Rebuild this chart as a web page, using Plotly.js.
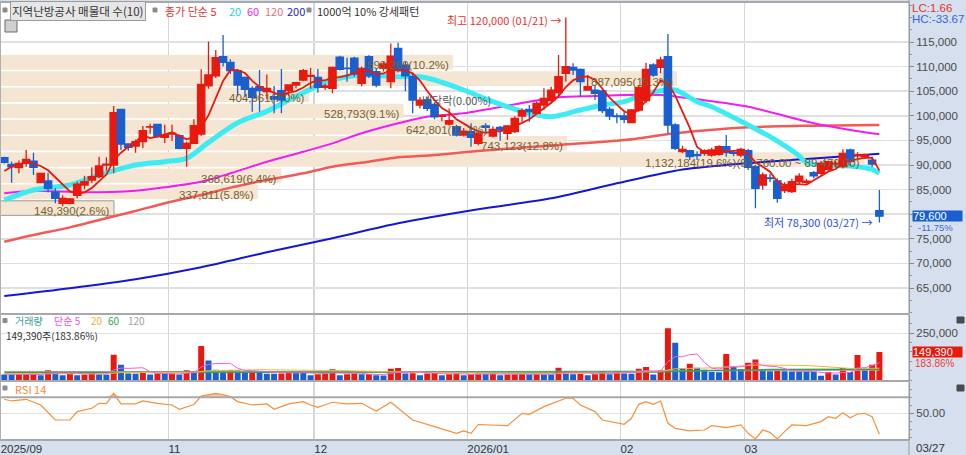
<!DOCTYPE html>
<html><head><meta charset="utf-8">
<script src="https://cdn.plot.ly/plotly-3.0.1.min.js"></script>
<style>html,body{margin:0;padding:0;background:#fff;}#chart{width:966px;height:455px;}</style>
</head><body><div id="chart"></div>
<script>
// ---------------- DATA ----------------
const open = [91480,90140,89450,90350,90800,86400,86750,84460,82220,82220,
83840,85930,86950,87620,90000,90000,101310,94270,93860,94740,
97730,98270,95630,96300,95970,93400,94400,96300,106100,108100,
112000,110870,109170,107830,105590,105920,104900,103880,105100,105100,
106260,107280,108000,107830,105800,105590,111900,109700,111700,106600,
112000,108960,109650,106930,113700,110320,107950,102200,103200,102300,
99900,98330,97800,96100,96770,94400,97930,95900,97650,96440,
96780,99960,101315,100500,102200,103080,104700,108630,109850,109440,
105240,105240,105040,101320,99960,99960,98600,101180,103080,110330,
109850,112020,98130,92710,92900,92100,92370,92030,92170,93720,
92500,92030,92900,89650,85940,87400,86750,84780,84580,86600,
86500,88440,88320,89120,90200,89660,93050,91900,91700,91000,
80700];
const high = [91700,90690,90900,93050,92500,88400,88450,85260,83840,83300,
86600,87800,89530,91690,91570,102000,101400,94400,95200,97930,
98400,98400,98200,98200,96200,94740,99300,109450,115100,113400,
116420,111500,109500,108000,106000,109300,108400,106050,109500,106300,
106900,109500,109700,109500,106500,110000,112200,111800,112000,110000,
112300,109600,111000,114700,114860,111000,108500,103800,103800,102700,
100300,101500,98200,97500,98470,96800,98470,97900,97930,98130,
99900,101500,102200,102900,105580,105920,112360,120000,110660,109600,
108290,106260,105300,101800,100500,100840,101400,106260,110800,110660,
112000,116630,98470,93900,93100,92800,93200,93500,94000,96100,
93000,93500,93300,90000,88500,88200,87300,86500,87200,88300,
87200,88800,90800,90900,90900,93190,93300,92600,92300,91700,
84920];
const low = [90300,86400,88300,89650,87970,86300,84460,82220,81620,82000,
83230,85060,86300,87300,88840,88300,93050,92900,92500,93400,
96340,95600,94470,94870,93200,89650,94270,95900,105500,107700,
110000,108500,103900,103880,100830,100830,103400,100530,100500,104000,
105600,107000,105500,104700,105250,104600,109200,106900,108000,106000,
107700,105800,109000,105600,108800,105000,100500,101500,101000,99300,
98900,98000,95800,95800,93720,94000,96780,95600,94950,95080,
96500,98800,98800,100300,101200,102500,104230,106940,108290,103890,
105240,103210,100500,99150,98470,98470,98470,100840,102530,107950,
108630,96440,93050,92370,91000,91000,91900,91700,91900,91700,
91800,91600,89000,81200,85000,86500,82340,84300,84300,86000,
86200,87300,88000,88800,89500,89300,89800,91300,91200,89600,
78300];
const close = [90550,89650,90350,91150,89530,88300,85260,83230,83230,83100,
86100,86600,87620,89800,90200,100630,94270,93600,94740,97000,
97800,95760,96100,96500,93400,94400,98000,106400,108300,111800,
110870,109170,106260,105380,103760,105100,105590,103400,103200,106260,
106730,109170,108200,105800,106060,109850,109450,109600,108500,109650,
108100,106260,110530,112150,109170,108100,103200,103200,101500,99800,
100100,99000,96100,96900,95630,96440,97660,97250,97120,97930,
99480,101040,100840,102530,103550,105240,107950,109990,109310,106940,
105920,104570,101040,99960,99830,99280,101180,105790,109440,108290,
111340,98130,93390,93190,91700,91900,92900,93050,93720,92500,
92380,93190,89530,85260,87970,87250,83230,85730,86600,87760,
86700,87820,90350,90670,90400,92370,90670,92030,92030,90200,
79600];
const volume = [30000,27000,29500,31000,34700,26000,52000,47000,26000,34700,
26000,29500,43400,29500,28500,135400,81700,34700,33000,43400,
29500,34700,33000,34000,29500,52000,48000,182300,104200,55000,
52000,53000,52000,45000,47000,45000,34000,33000,35000,43000,
42000,41000,26000,31000,34700,57000,26000,31000,34700,31000,
32000,26000,24000,60000,64000,34700,36000,26000,34700,46900,
26000,31000,34700,26000,31000,34700,33000,35000,26000,29500,
30500,31500,29500,31250,30000,29000,66000,46900,31000,32000,
26000,31250,46900,31250,46900,34700,33000,60800,69400,29500,
52000,277600,199700,64300,86800,66000,55500,43400,42000,138900,
69400,57300,92000,109400,57300,46900,47500,46500,46000,45500,
45000,43400,22600,43400,29500,64300,43400,133700,60000,81252,
149390];

// 5-day simple MA of close: first four values (earlier closes not shown)
const ma5Head = [88780, 89650, 90000, 90670];
// longer moving averages at these candle positions
const ma20Idx = [0,4,9,13,18,22,25,28,32,36,40,45,49,54,57,59,63,67,72,75,79,82,85,88,90,92,95,97,102,105,109,110,112,116,119,120];
const ma20Val = [82890,84920,85940,87970,90000,90670,91360,94600,98600,100900,104000,107280,108300,107950,107950,107280,105240,102870,100500,99820,101180,102200,102870,104570,105100,105240,102870,101850,98130,95750,91860,90470,90000,89800,89120,88310];
const ma60Idx = [0,4,11,18,22,27,31,36,41,45,49,54,58,63,72,76,81,85,90,95,102,111,116,120];
const ma60Val = [84250,84780,84450,84780,85470,86600,88310,90670,92700,94400,96440,98470,99820,100500,102870,103760,104030,104230,104230,103350,101850,98470,97110,96240];
const ma120Idx = [0,4,9,13,18,22,27,31,36,41,45,50,54,59,65,76,85,92,102,111,120];
const ma120Val = [74410,75770,77330,78820,80650,82220,83900,85400,86950,88310,89650,90670,91560,92030,92850,94070,95080,96440,97660,97990,98130];
const ma200Idx = [0,9,18,27,36,45,54,65,75,84,93,102,111,120];
const ma200Val = [63370,64940,66770,69210,72260,75100,78150,81000,83230,86280,89100,90400,91300,92300];

// volume moving averages
const volMa5Head = [30000, 30000, 30000, 30000];
const volMa20Idx = [0,14,16,26,28,35,47,55,65,75,84,88,90,92,97,101,103,110,113,116,120];
const volMa20Val = [34000,33000,40000,40000,50000,55000,50000,42000,37000,34000,38000,42000,47000,60000,65000,75000,80000,78000,70000,62000,63000];
const volMa60Idx = [0,30,60,90,95,105,120];
const volMa60Val = [40000,42000,44000,43000,50000,56000,57000];
const volMa120Idx = [0,60,120];
const volMa120Val = [46000,45000,52000];

// RSI 14
const rsiIdx = [0,1,3,5,7,9,10,12,13,14,15,16,18,19,21,23,24,25,26,27,28,29,30,31,32,34,36,37,39,41,42,43,45,47,49,51,53,56,59,62,63,64,65,69,71,72,74,77,78,79,81,82,85,86,87,88,89,90,91,92,94,96,97,99,101,102,103,104,105,106,107,108,110,111,112,113,114,115,116,117,118,119,120];
const rsiVal = [67.5,65.4,67.5,60.4,41.6,41.6,52.1,56.3,62.5,62.1,75.0,61.7,61.7,65.4,62.5,60.4,55.0,58.0,61.0,71.5,73.5,75.0,73.5,70.8,64.6,60.4,61.7,55.0,61.7,64.6,60.4,57.5,63.8,61.7,62.5,52.9,63.8,41.6,33.3,25.0,27.9,25.0,36.0,34.5,50.0,48.7,58.3,68.8,68.8,60.4,52.1,41.6,36.2,43.7,61.2,64.6,61.2,65.4,37.5,31.2,27.9,29.1,34.5,32.0,35.4,25.0,17.9,29.1,26.2,17.9,27.0,35.4,34.5,37.5,39.6,45.8,43.7,50.8,44.5,49.1,50.0,45.8,23.7];

// volume profile (매물대) bands, bottom to top
const bandLow = [79600,82890,86180,89470,92760,96050,99340,102630,105920,109210];
const bandStep = 3290;
const bandVol = [149390,337811,368619,1132184,743123,642801,528793,404961,887095,593269];
const bandPct = ['2.6','5.8','6.4','19.6','12.8','11.1','9.1','7.0','15.3','10.2'];

// axis labels
const monthTickPos = [-0.5, 22.5, 42.5, 63.5, 84.5, 101.5];
const monthLabels = ['2025/09','11','12','2026/01','02','03'];
const priceTicks = [65000,70000,75000,80000,85000,90000,95000,100000,105000,110000,115000];
const hiLoDates = ['01/21','03/27'];
const lastDateLabel = '03/27';

// ---------------- LAYOUT CONSTANTS ----------------
const W = 966, H = 455, MR = 57, MT = 3, MB = 15;
const PW = W - MR, PH = H - MT - MB;
const px = x => x / PW;
const py = y => (H - MB - y) / PH;
const X0 = -0.59, X1 = 124.06;
const PR = [59920, 122930];
const RED = '#e8190e', BLUE = '#1a5fd0';
const KR = 'Noto Sans CJK KR, Liberation Sans, sans-serif';
const LAT = 'Liberation Sans, Arial, sans-serif';
const fmt = v => Math.round(v).toLocaleString('en-US');

const idx = close.map((_, i) => i);
const ma5 = close.map((c, i) => i < 4 ? ma5Head[i] : (close[i]+close[i-1]+close[i-2]+close[i-3]+close[i-4]) / 5);
const volMa5 = volume.map((v, i) => i < 4 ? volMa5Head[i] : (volume[i]+volume[i-1]+volume[i-2]+volume[i-3]+volume[i-4]) / 5);
const volColors = volume.map((v, i) => (i > 0 && v > volume[i-1]) ? RED : BLUE);

const n = close.length;
const lastClose = close[n-1], prevClose = close[n-2];
const chgPct = ((lastClose / prevClose - 1) * 100).toFixed(2);
const volPct = (volume[n-1] / volume[n-2] * 100).toFixed(2);
const hiVal = Math.max(...high), hiIdx = high.indexOf(hiVal);
const loVal = Math.min(...low), loIdx = low.indexOf(loVal);
const LC = ((lastClose / loVal - 1) * 100).toFixed(2);
const HC = ((lastClose / hiVal - 1) * 100).toFixed(2);
// the price tag of the last close covers the nearest tick label
const priceTickText = priceTicks.map(v => Math.abs(v - lastClose) < 2000 ? '' : fmt(v));

// band geometry (index units of the shared x axis)
const bandMax = Math.max(...bandVol);
const bandFullLen = 118.5;
const bandLen = bandVol.map(v => v / bandMax * bandFullLen);
const bandCenter = bandLow.map(l => l + bandStep / 2);
const curBand = bandLow.map(l => lastClose >= l && lastClose < l + bandStep);

// ---------------- TRACES ----------------
const traces = [];
traces.push({type:'bar', orientation:'h', x: bandLen, y: bandCenter, base: X0, width: bandStep * 0.9,
  marker:{color:'#f5e6d3', line:{color: curBand.map(c => c ? '#9a9a9a' : 'rgba(0,0,0,0)'), width: curBand.map(c => c ? 1 : 0)}},
  xaxis:'x', yaxis:'y', hoverinfo:'skip', showlegend:false});
const maLine = (xs, ys, color, w) => ({type:'scatter', mode:'lines', x: xs, y: ys, line:{color, width:w, shape:'spline', smoothing:0.8}, xaxis:'x', yaxis:'y', hoverinfo:'skip', showlegend:false});
traces.push(maLine(ma200Idx, ma200Val, '#1616d8', 2));
traces.push(maLine(ma120Idx, ma120Val, '#f25a55', 2.5));
traces.push(maLine(ma60Idx, ma60Val, '#f01ef0', 2));
traces.push(maLine(ma20Idx, ma20Val, '#3cecf2', 5));
traces.push({type:'candlestick', x: idx, open, high, low, close,
  increasing:{line:{color:RED, width:1.3}, fillcolor:RED},
  decreasing:{line:{color:BLUE, width:1.3}, fillcolor:BLUE},
  whiskerwidth:0, xaxis:'x2', yaxis:'y4', hoverinfo:'skip', showlegend:false});
traces.push({type:'scatter', mode:'lines', x: idx, y: ma5, line:{color:'#e8190e', width:1.8}, xaxis:'x2', yaxis:'y4', hoverinfo:'skip', showlegend:false});

// volume
traces.push({type:'bar', x: idx, y: volume, width: 0.82, marker:{color: volColors}, xaxis:'x', yaxis:'y2', hoverinfo:'skip', showlegend:false});
const vLine = (xs, ys, color, w) => ({type:'scatter', mode:'lines', x: xs, y: ys, line:{color, width:w}, xaxis:'x', yaxis:'y2', hoverinfo:'skip', showlegend:false});
traces.push(vLine(volMa120Idx, volMa120Val, '#a8a8a8', 1));
traces.push(vLine(volMa60Idx, volMa60Val, '#35a050', 1.5));
traces.push(vLine(volMa20Idx, volMa20Val, '#f2b53a', 1));
traces.push(vLine(idx, volMa5, '#f060dc', 1));

// RSI
traces.push({type:'scatter', mode:'lines', x: rsiIdx, y: rsiIdx.map(() => 70), line:{width:0, color:'rgba(0,0,0,0)'}, xaxis:'x', yaxis:'y3', hoverinfo:'skip', showlegend:false});
traces.push({type:'scatter', mode:'lines', x: rsiIdx, y: rsiVal.map(v => Math.max(v, 70)), fill:'tonexty', fillcolor:'rgba(240,150,100,0.55)', line:{width:0, color:'rgba(0,0,0,0)'}, xaxis:'x', yaxis:'y3', hoverinfo:'skip', showlegend:false});
traces.push({type:'scatter', mode:'lines', x: rsiIdx, y: rsiVal, line:{color:'#f7903a', width:1.2}, xaxis:'x', yaxis:'y3', hoverinfo:'skip', showlegend:false});

// ---------------- ANNOTATIONS ----------------
const ann = [];
const txt = (x, y, text, color, size, family, extra) => Object.assign({xref:'paper', yref:'paper', x: px(x), y: py(y), text, showarrow:false, xanchor:'left', yanchor:'middle', font:{color, size, family}}, extra || {});
ann.push(txt(10, 10.5, '지역난방공사 매물대 수(10)', '#333', 11.5, KR, {bgcolor:'#e6e6e6', bordercolor:'#9a9a9a', borderwidth:1, borderpad:1}));
ann.push(txt(163, 10.5, '종가 단순 5', '#e8322c', 11, KR));
ann.push(txt(227, 10.5, '20', '#1fd3e6', 11, KR));
ann.push(txt(245, 10.5, '60', '#f01ef0', 11, KR));
ann.push(txt(263, 10.5, '120', '#f07070', 11, KR));
ann.push(txt(285, 10.5, '200', '#2424d0', 11, KR));
ann.push(txt(315, 10.5, '1000억 10% 강세패턴', '#333', 11, KR));
ann.push(txt(13, 320.5, '거래량', '#3c9c9c', 10, KR));
ann.push(txt(52, 320.5, '단순 5', '#f050d8', 10, KR));
ann.push(txt(89, 320.5, '20', '#f0b030', 10, KR));
ann.push(txt(106, 320.5, '60', '#2fa84f', 10, KR));
ann.push(txt(126, 320.5, '120', '#a0a0a0', 10, KR));
ann.push(txt(4, 335, fmt(volume[n-1]) + '주(' + volPct + '%)', '#333', 10, KR));
ann.push(txt(13, 388.5, 'RSI 14', '#f5873a', 11, KR));
ann.push(txt(910, 7.5, 'LC:' + LC, '#e8322c', 11.5, LAT));
ann.push(txt(910, 19, 'HC:' + HC, '#3565e0', 11.5, LAT));
ann.push(txt(914, 448, lastDateLabel, '#333', 11.5, LAT));
ann.push({xref:'x', yref:'y', x: hiIdx, y: hiVal, xanchor:'right', yanchor:'middle', xshift:-2, yshift:-3, showarrow:false,
  text:'최고 ' + fmt(hiVal) + ' (' + hiLoDates[0] + ') →', font:{color:'#e8322c', size:11, family:KR}});
ann.push({xref:'x', yref:'y', x: loIdx, y: loVal, xanchor:'right', yanchor:'middle', xshift:-5, yshift:1, showarrow:false,
  text:'최저 ' + fmt(loVal) + ' (' + hiLoDates[1] + ') →', font:{color:'#2d4de8', size:11, family:KR}});
ann.push({xref:'x', yref:'y', x: 57, y: 103300, xanchor:'left', yanchor:'middle', showarrow:false,
  text:'배당락(0.00%)', font:{color:'#555', size:11, family:KR}});
// band labels
bandVol.forEach((v, k) => {
  let t = fmt(v) + '(' + bandPct[k] + '%)';
  if (v === bandMax) t += '(' + (bandLow[k] + bandStep).toLocaleString('en-US', {minimumFractionDigits:2}) + ' ~ ' + bandLow[k].toLocaleString('en-US', {minimumFractionDigits:2}) + ')';
  ann.push({xref:'x', yref:'y', x: X0 + bandLen[k], y: bandCenter[k], xanchor:'right', yanchor:'middle', xshift:-2, yshift:-3, showarrow:false,
    text: t, font:{color:'#76612f', size:11.5, family:LAT}});
});
// last price / last volume tags on the right axis
ann.push({xref:'paper', yref:'y', x: px(912), y: lastClose, xanchor:'left', yanchor:'middle', showarrow:false, text: fmt(lastClose),
  bgcolor: BLUE, width: 49, height: 10, align:'left', borderpad:0, font:{color:'#fff', size:11, family:LAT}});
ann.push({xref:'paper', yref:'y', x: px(917), y: lastClose, xanchor:'left', yanchor:'middle', yshift:-11.5, showarrow:false, text: chgPct + '%',
  borderpad:0, font:{color:'#3b6be0', size:9.5, family:LAT}});
ann.push({xref:'paper', yref:'y2', x: px(912), y: volume[n-1], xanchor:'left', yanchor:'middle', showarrow:false, text: fmt(volume[n-1]),
  bgcolor: RED, width: 49, height: 10, align:'left', borderpad:0, font:{color:'#fff', size:11, family:LAT}});
ann.push({xref:'paper', yref:'y2', x: px(914), y: volume[n-1], xanchor:'left', yanchor:'middle', yshift:-11.5, showarrow:false, text: volPct + '%',
  borderpad:0, font:{color:'#f03c3c', size:10, family:LAT}});

// ---------------- SHAPES ----------------
const shapes = [];
const hline = (y, color, w) => ({type:'line', xref:'paper', yref:'paper', x0:0, x1:1, y0:py(y), y1:py(y), line:{color, width:w}});
shapes.push(hline(2, '#a8a8a8', 2));
shapes.push(hline(314, '#a8a8a8', 2));
shapes.push(hline(381, '#a8a8a8', 2));
shapes.push(hline(440, '#a8a8a8', 2));
shapes.push({type:'line', xref:'paper', yref:'y3', x0:0, x1:1, y0:70, y1:70, line:{color:'#a8a8a8', width:2}});
shapes.push({type:'line', xref:'paper', yref:'paper', x0:1, x1:1, y0:py(455), y1:py(0), line:{color:'#9a9a9a', width:1}});
shapes.push({type:'line', xref:'paper', yref:'paper', x0:px(0.5), x1:px(0.5), y0:py(440), y1:py(2), line:{color:'#b0b0b0', width:1}});
const box = (x0, y0, x1, y1, fill, lc) => ({type:'rect', xref:'paper', yref:'paper', x0:px(x0), x1:px(x1), y0:py(y1), y1:py(y0), fillcolor:fill, line:{color:lc, width:1}});
[[3,8],[153,8],[307,8],[3,318.5],[3,386]].forEach(p => shapes.push(box(p[0], p[1], p[0]+4, p[1]+4, '#8c8c8c', '#8c8c8c')));
shapes.push(box(5, 20, 17, 32, '#d0d0d0', '#6a6a6a'));
shapes.push(box(957, 317, 964, 323, '#4a4a4a', '#4a4a4a'));
shapes.push(box(957, 385, 964, 391, '#4a4a4a', '#4a4a4a'));

// ---------------- LAYOUT ----------------
const layout = {
  width: W, height: H, margin:{l:0, r:MR, t:MT, b:MB, pad:0},
  paper_bgcolor:'#d5dfed', plot_bgcolor:'#ffffff',
  font:{family: LAT, size:11, color:'#333'},
  showlegend:false, boxgap:0, boxgroupgap:0, bargap:0.2,
  xaxis:{domain:[0,1], range:[X0, X1], anchor:'y3', tickmode:'array', tickvals: monthTickPos, ticktext: monthLabels,
    ticklabelposition:'outside right', ticks:'', showgrid:true, gridcolor:'#d6d6d6', gridwidth:1.5, zeroline:false,
    showline:false, tickfont:{size:11.5, color:'#333', family:LAT}, rangeslider:{visible:false}, fixedrange:true},
  xaxis2:{overlaying:'x', range:[X0, X1], anchor:'y4', visible:false, rangeslider:{visible:false}, fixedrange:true},
  yaxis:{domain:[py(313), 1], range: PR, side:'right', anchor:'x', tickmode:'array', tickvals: priceTicks, ticktext: priceTickText,
    ticks:'outside', ticklen:4, tickcolor:'#8a8a8a', showgrid:true, gridcolor:'#e0e0e0', gridwidth:1.5, zeroline:false,
    showline:true, linecolor:'#9a9a9a', linewidth:1, tickfont:{size:11.5, color:'#4a4a4a', family:LAT},
    minor:{dtick:2500, tick0:0, ticks:'outside', ticklen:2, tickcolor:'#9a9a9a', showgrid:false}, fixedrange:true},
  yaxis4:{overlaying:'y', range: PR, anchor:'x2', visible:false, fixedrange:true},
  yaxis2:{domain:[py(380.5), py(315)], range:[-2700, 348000], side:'right', anchor:'x', tickmode:'array', tickvals:[250000], tickformat:',d',
    ticks:'outside', ticklen:4, tickcolor:'#8a8a8a', showgrid:true, gridcolor:'#e0e0e0', gridwidth:1.5, zeroline:false,
    showline:true, linecolor:'#9a9a9a', tickfont:{size:11.5, color:'#4a4a4a', family:LAT},
    minor:{dtick:50000, tick0:0, ticks:'outside', ticklen:2, tickcolor:'#9a9a9a', showgrid:false}, fixedrange:true},
  yaxis3:{domain:[0, py(381.5)], range:[16.6, 89.75], side:'right', anchor:'x', tickmode:'array', tickvals:[50], ticktext:['50.00'],
    ticks:'outside', ticklen:4, tickcolor:'#8a8a8a', showgrid:true, gridcolor:'#e0e0e0', gridwidth:1.5, zeroline:false,
    showline:true, linecolor:'#9a9a9a', tickfont:{size:11.5, color:'#4a4a4a', family:LAT},
    minor:{dtick:10, tick0:0, ticks:'outside', ticklen:2, tickcolor:'#9a9a9a', showgrid:false}, fixedrange:true},
  annotations: ann, shapes: shapes
};
Plotly.newPlot('chart', traces, layout, {staticPlot:true, displayModeBar:false});
</script></body></html>
